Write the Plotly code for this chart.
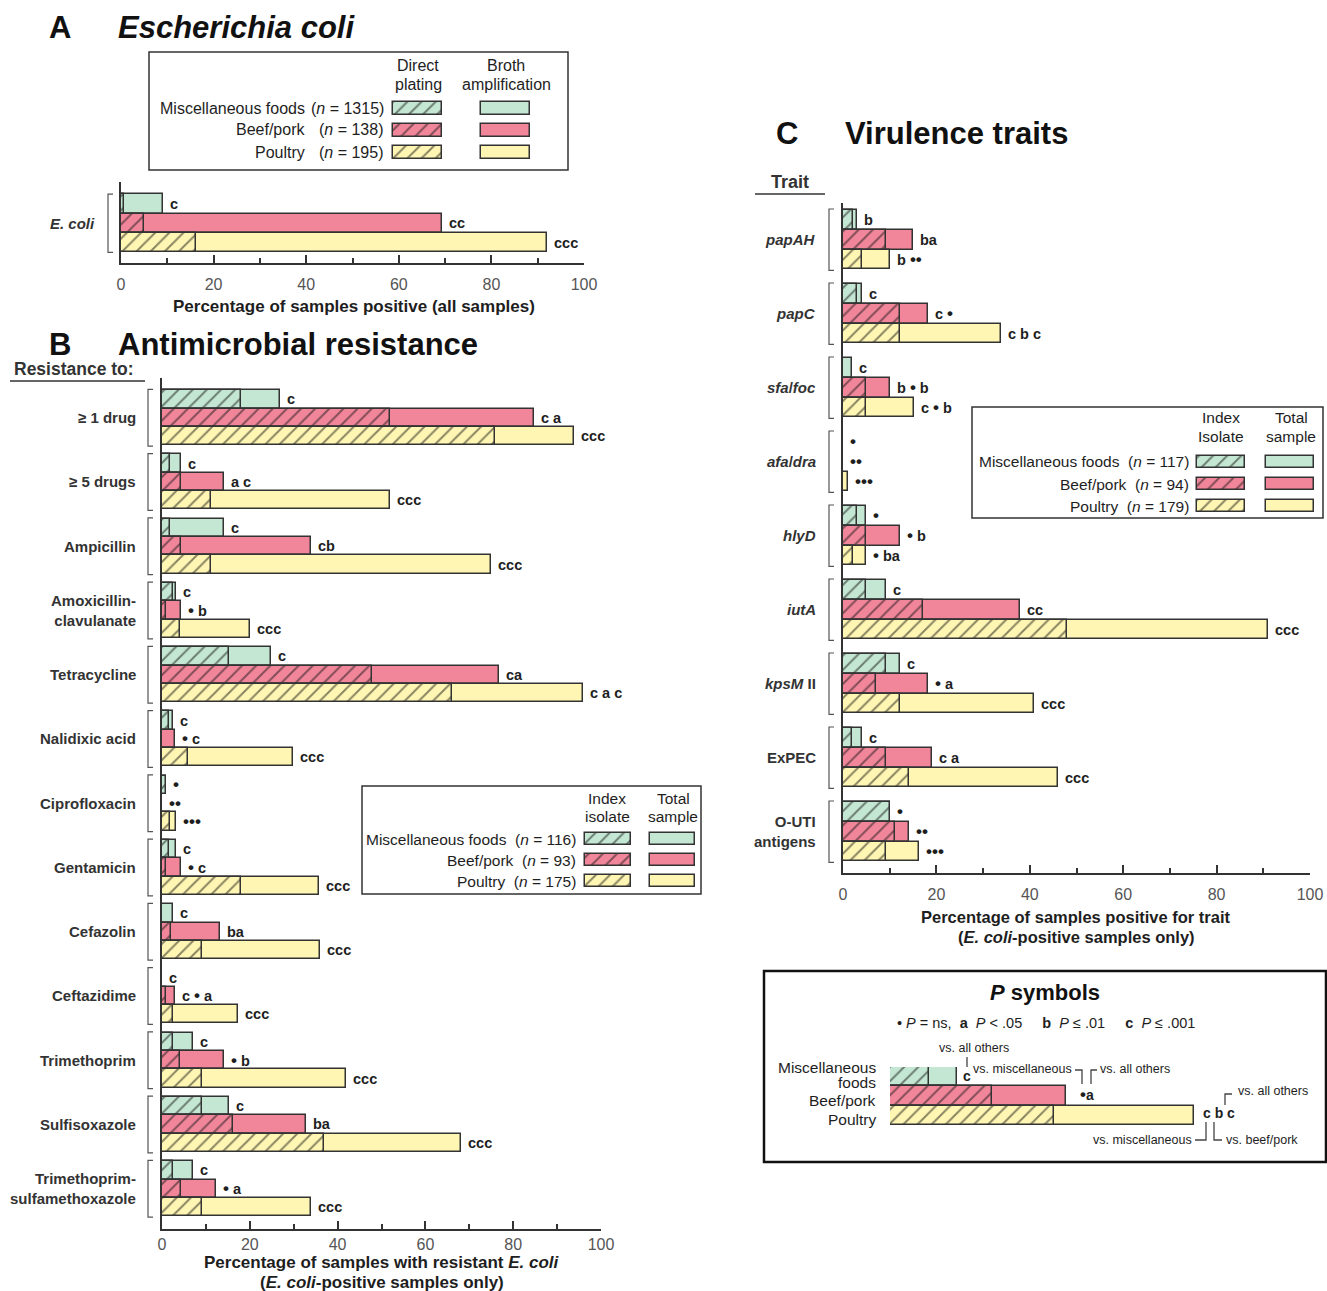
import plotly.graph_objects as go

W, H = 1327, 1291
def X(px): return px / W
def Y(py): return 1 - py / H

FONT = "Liberation Sans, Arial, Helvetica, sans-serif"
TXT = "#1e1e1e"
EDGE = "#333333"
GREEN, PINK, YELLOW = "#c4e7d3", "#f1869a", "#fff6b3"
COLORS = [GREEN, PINK, YELLOW]

sources = ["Miscellaneous foods", "Beef/pork", "Poultry"]

# ---------------- Panel A: E. coli prevalence ----------------
a_category = ["<i>E. coli</i>"]
a_direct = [0.6, 5.0, 16.2]
a_broth = [9.0, 69.3, 92.1]
a_sig = ["c", "cc", "ccc"]
a_n = [1315, 138, 195]

# ---------------- Panel B: antimicrobial resistance ----------------
b_drugs = ["≥ 1 drug", "≥ 5 drugs", "Ampicillin", "Amoxicillin-<br>clavulanate", "Tetracycline",
           "Nalidixic acid", "Ciprofloxacin", "Gentamicin", "Cefazolin", "Ceftazidime",
           "Trimethoprim", "Sulfisoxazole", "Trimethoprim-<br>sulfamethoxazole"]
b_total_misc = [26.8, 4.4, 14.1, 3.3, 24.8, 2.4, 1.0, 3.3, 2.4, 0.0, 7.1, 15.2, 7.1]
b_index_misc = [18.1, 1.8, 1.8, 2.5, 15.2, 1.6, 1.0, 1.6, 0.0, 0.0, 2.4, 9.1, 2.4]
b_total_beef = [84.7, 14.1, 33.9, 4.4, 76.8, 2.9, 0.0, 4.4, 13.1, 3.0, 14.1, 32.9, 12.2]
b_index_beef = [51.9, 4.4, 4.4, 1.0, 47.8, 0.0, 0.0, 0.8, 2.0, 1.0, 4.0, 16.2, 4.4]
b_total_poultry = [93.9, 52.0, 75.0, 20.0, 95.9, 29.8, 3.3, 35.8, 35.9, 17.2, 42.0, 68.2, 34.0]
b_index_poultry = [75.8, 11.1, 11.1, 4.0, 66.1, 5.9, 1.8, 18.1, 9.1, 2.4, 9.1, 36.9, 9.1]
b_sig_misc = ["c", "c", "c", "c", "c", "c", "•", "c", "c", "c", "c", "c", "c"]
b_sig_beef = ["c a", "a c", "cb", "• b", "ca", "• c", "••", "• c", "ba", "c • a", "• b", "ba", "• a"]
b_sig_poultry = ["ccc", "ccc", "ccc", "ccc", "c a c", "ccc", "•••", "ccc", "ccc", "ccc", "ccc", "ccc", "ccc"]
b_n = [116, 93, 175]

# ---------------- Panel C: virulence traits ----------------
c_traits = ["<i>papAH</i>", "<i>papC</i>", "<i>sfa</i>/<i>foc</i>", "<i>afa</i>/<i>dra</i>", "<i>hlyD</i>",
            "<i>iutA</i>", "<i>kpsM</i> II", "ExPEC", "O-UTI<br>antigens"]
c_total_misc = [3.1, 4.1, 2.0, 0.0, 5.0, 9.1, 12.1, 4.1, 10.1]
c_index_misc = [2.1, 3.1, 0.0, 0.0, 3.1, 5.0, 9.1, 2.0, 10.1]
c_total_beef = [15.0, 18.2, 10.1, 0.0, 12.1, 38.0, 18.2, 19.1, 14.1]
c_index_beef = [9.1, 12.1, 5.0, 0.0, 5.0, 17.1, 7.1, 9.1, 11.1]
c_total_poultry = [10.1, 33.9, 15.1, 1.1, 5.0, 90.9, 41.0, 46.0, 16.2]
c_index_poultry = [4.1, 12.1, 5.0, 0.0, 2.2, 48.0, 12.1, 14.1, 9.1]
c_sig_misc = ["b", "c", "c", "•", "•", "c", "c", "c", "•"]
c_sig_beef = ["ba", "c •", "b • b", "••", "• b", "cc", "• a", "c a", "••"]
c_sig_poultry = ["b ••", "c b c", "c • b", "•••", "• ba", "ccc", "ccc", "ccc", "•••"]
c_n = [117, 94, 179]

# ---------------- P-symbol key example (illustrative) ----------------
p_index = [9.75, 25.4, 41.0]
p_total = [16.7, 44.0, 76.0]

xticks = [0, 20, 40, 60, 80, 100]

fig = go.Figure()

def hatch(color):
    return dict(color=color, line=dict(color=EDGE, width=1.5),
                pattern=dict(shape="/", fgcolor="#111111", bgcolor=color, size=10,
                             solidity=0.2, fillmode="overlay"))

def solid(color):
    return dict(color=color, line=dict(color=EDGE, width=1.5))

def add_pair(total, index, ys, width, color, xa, ya):
    fig.add_trace(go.Bar(x=total, y=ys, orientation="h", width=width, marker=solid(color),
                         xaxis=xa, yaxis=ya, showlegend=False, hoverinfo="skip"))
    fig.add_trace(go.Bar(x=index, y=ys, orientation="h", width=width, marker=hatch(color),
                         xaxis=xa, yaxis=ya, showlegend=False, hoverinfo="skip"))

annotations = []
shapes = []

def big_dots(s):
    return s.replace("•", "<span style='font-size:17px'>•</span>")

def ann(text, x, y, size=15, bold=False, italic=False, xanchor="center", yanchor="middle",
        color=TXT, xref="paper", yref="paper", xshift=0, align="center"):
    if bold:
        text = "<b>" + text + "</b>"
    if italic:
        text = "<i>" + text + "</i>"
    annotations.append(dict(text=text, x=x, y=y, xref=xref, yref=yref, showarrow=False,
                            xanchor=xanchor, yanchor=yanchor, xshift=xshift, align=align,
                            font=dict(family=FONT, size=size, color=color)))

def pline(pts, width=1.3, color="#444"):
    path = "M " + " L ".join(f"{X(px)},{Y(py)}" for px, py in pts)
    shapes.append(dict(type="path", path=path, xref="paper", yref="paper",
                       line=dict(color=color, width=width)))

# ---- Panel A bars
pA = 1.0
for k in range(3):
    ys = [(k - 1) * pA]
    add_pair([a_broth[k]], [a_direct[k]], ys, pA, COLORS[k], "x", "y")
    ann(a_sig[k], a_broth[k], ys[0], size=14.5, bold=True, xanchor="left", xref="x", yref="y", xshift=5)
ann(a_category[0], X(97), 0, size=15, bold=True, xanchor="right", yref="y", color="#333")
shapes.append(dict(type="path", xref="paper", yref="y",
                   path=f"M {X(113)},{-1.5*pA} L {X(108)},{-1.5*pA} L {X(108)},{1.5*pA} L {X(113)},{1.5*pA}",
                   line=dict(color="#555", width=1.2)))

# ---- Panel B bars
pB = 0.285
b_tot = [b_total_misc, b_total_beef, b_total_poultry]
b_idx = [b_index_misc, b_index_beef, b_index_poultry]
b_sig = [b_sig_misc, b_sig_beef, b_sig_poultry]
for k in range(3):
    ys = [i + (k - 1) * pB for i in range(len(b_drugs))]
    add_pair(b_tot[k], b_idx[k], ys, pB, COLORS[k], "x2", "y2")
    for i, yv in enumerate(ys):
        ann(big_dots(b_sig[k][i]), b_tot[k][i], yv, size=14.5, bold=True, xanchor="left",
            xref="x2", yref="y2", xshift=5)
for i, lab in enumerate(b_drugs):
    ann(lab, X(138), i, size=15, bold=True, xanchor="right", yref="y2", color="#333", align="right")
    shapes.append(dict(type="path", xref="paper", yref="y2",
                       path=f"M {X(153)},{i-1.55*pB} L {X(148)},{i-1.55*pB} L {X(148)},{i+1.55*pB} L {X(153)},{i+1.55*pB}",
                       line=dict(color="#555", width=1.2)))

# ---- Panel C bars
pC = 0.2676
c_tot = [c_total_misc, c_total_beef, c_total_poultry]
c_idx = [c_index_misc, c_index_beef, c_index_poultry]
c_sig = [c_sig_misc, c_sig_beef, c_sig_poultry]
for k in range(3):
    ys = [i + (k - 1) * pC for i in range(len(c_traits))]
    add_pair(c_tot[k], c_idx[k], ys, pC, COLORS[k], "x3", "y3")
    for i, yv in enumerate(ys):
        ann(big_dots(c_sig[k][i]), c_tot[k][i], yv, size=14.5, bold=True, xanchor="left",
            xref="x3", yref="y3", xshift=5)
for i, lab in enumerate(c_traits):
    ann(lab, X(818), i, size=15, bold=True, xanchor="right", yref="y3", color="#333", align="right")
    shapes.append(dict(type="path", xref="paper", yref="y3",
                       path=f"M {X(834)},{i-1.55*pC} L {X(829)},{i-1.55*pC} L {X(829)},{i+1.55*pC} L {X(834)},{i+1.55*pC}",
                       line=dict(color="#555", width=1.2)))

# ---- P-symbol example bars
for k in range(3):
    add_pair([p_total[k]], [p_index[k]], [k - 1], 1.0, COLORS[k], "x4", "y4")

# ---- Legend swatches (overlay pixel axis x5/y5)
def swatches(rows_y, hx, sx, h):
    for k in range(3):
        fig.add_trace(go.Bar(x=[hx[1] - hx[0]], base=[hx[0]], y=[rows_y[k]], orientation="h", width=h,
                             marker=hatch(COLORS[k]), xaxis="x5", yaxis="y5", showlegend=False, hoverinfo="skip"))
        fig.add_trace(go.Bar(x=[sx[1] - sx[0]], base=[sx[0]], y=[rows_y[k]], orientation="h", width=h,
                             marker=solid(COLORS[k]), xaxis="x5", yaxis="y5", showlegend=False, hoverinfo="skip"))

# Legend A
rowsA = [108, 130, 152]
swatches(rowsA, (393, 442), (481, 530), 13)
for k in range(3):
    ann(sources[k], X(307), Y(rowsA[k]), size=16, xanchor="right")
    ann(f"(<i>n</i> = {a_n[k]})", X(386), Y(rowsA[k]), size=16, xanchor="right")
ann("Direct", X(418), Y(65), size=16); ann("plating", X(418), Y(84), size=16)
ann("Broth", X(506), Y(65), size=16); ann("amplification", X(506), Y(84), size=16)
shapes.append(dict(type="rect", xref="paper", yref="paper", x0=X(149), x1=X(568), y0=Y(170), y1=Y(52),
                   line=dict(color=EDGE, width=1.5)))

# Legend B
rowsB = [839, 860, 881]
swatches(rowsB, (585, 631), (650, 695), 12)
for k in range(3):
    ann(f"{sources[k]}\u00a0 (<i>n</i> = {b_n[k]})", X(578), Y(rowsB[k]), size=15.5, xanchor="right")
ann("Index", X(607), Y(798), size=15.5); ann("isolate", X(607), Y(816), size=15.5)
ann("Total", X(673), Y(798), size=15.5); ann("sample", X(673), Y(816), size=15.5)
shapes.append(dict(type="rect", xref="paper", yref="paper", x0=X(362), x1=X(701), y0=Y(894), y1=Y(786),
                   line=dict(color=EDGE, width=1.5)))

# Legend C
rowsC = [462, 484, 506]
swatches(rowsC, (1197, 1245), (1266, 1314), 12)
for k in range(3):
    ann(f"{sources[k]}\u00a0 (<i>n</i> = {c_n[k]})", X(1191), Y(rowsC[k]), size=15.5, xanchor="right")
ann("Index", X(1221), Y(417), size=15.5); ann("Isolate", X(1221), Y(436), size=15.5)
ann("Total", X(1291), Y(417), size=15.5); ann("sample", X(1291), Y(436), size=15.5)
shapes.append(dict(type="rect", xref="paper", yref="paper", x0=X(972), x1=X(1323), y0=Y(518), y1=Y(407),
                   line=dict(color=EDGE, width=1.5)))

# ---- Panel headings
ann("A", X(60), Y(28), size=31, bold=True, color="#111")
ann("Escherichia coli", X(116), Y(28), size=31, bold=True, italic=True, xanchor="left", color="#111")
ann("B", X(60), Y(345), size=31, bold=True, color="#111")
ann("Antimicrobial resistance", X(116), Y(345), size=31, bold=True, xanchor="left", color="#111")
ann("C", X(787), Y(133), size=31, bold=True, color="#111")
ann("Virulence traits", X(843), Y(133), size=31, bold=True, xanchor="left", color="#111")
ann("Resistance to:", X(12), Y(369), size=17.5, bold=True, xanchor="left", color="#333")
pline([(10, 381), (145, 381)], width=1.5, color="#333")
ann("Trait", X(790), Y(182), size=18, bold=True, color="#333")
pline([(755, 194), (825, 194)], width=1.5, color="#333")

# ---- Axis titles
ann("Percentage of samples positive (all samples)", X(354), Y(306), size=17, bold=True)
ann("Percentage of samples with resistant <i>E. coli</i>", X(382), Y(1262), size=17, bold=True)
ann("(<i>E. coli</i>-positive samples only)", X(382), Y(1282), size=17, bold=True)
ann("Percentage of samples positive for trait", X(1076), Y(917), size=16.5, bold=True)
ann("(<i>E. coli</i>-positive samples only)", X(1076), Y(937), size=16.5, bold=True)

# ---- P symbols box
shapes.append(dict(type="rect", xref="paper", yref="paper", x0=X(764), x1=X(1326), y0=Y(1162), y1=Y(971),
                   line=dict(color="#111", width=2.5)))
ann("<i>P</i> symbols", X(1045), Y(992), size=22, bold=True, color="#111")
ann("• <i>P</i> = ns,  <b>a</b>  <i>P</i> < .05     <b>b</b>  <i>P</i> ≤ .01     <b>c</b>  <i>P</i> ≤ .001",
    X(1046), Y(1023), size=14.5)
ann("Miscellaneous", X(878), Y(1067), size=15.5, xanchor="right")
ann("foods", X(878), Y(1082), size=15.5, xanchor="right")
ann("Beef/pork", X(878), Y(1100), size=15.5, xanchor="right")
ann("Poultry", X(878), Y(1119), size=15.5, xanchor="right")
ann("vs. all others", X(974), Y(1048), size=12.5)
pline([(967, 1057), (967, 1067)])
ann("c", X(967), Y(1076), size=14, bold=True)
ann("vs. miscellaneous", X(1074), Y(1069), size=12.5, xanchor="right")
pline([(1075, 1070), (1082, 1070), (1082, 1084)])
pline([(1091, 1084), (1091, 1070), (1097, 1070)])
ann("vs. all others", X(1098), Y(1069), size=12.5, xanchor="left")
ann(big_dots("•a"), X(1087), Y(1094), size=14, bold=True)
ann("c b c", X(1201), Y(1113), size=14, bold=True, xanchor="left")
pline([(1225, 1105), (1225, 1094), (1232, 1094)])
ann("vs. all others", X(1236), Y(1091), size=12.5, xanchor="left")
pline([(1195, 1140), (1206, 1140), (1206, 1122)])
ann("vs. miscellaneous", X(1194), Y(1140), size=12.5, xanchor="right")
pline([(1214, 1122), (1214, 1140), (1222, 1140)])
ann("vs. beef/pork", X(1224), Y(1140), size=12.5, xanchor="left")

# ---- Axes
def xax(x0, x1, anchor, standoff):
    return dict(domain=[X(x0), X(x1)], range=[0, 100], anchor=anchor, showline=True, linecolor=EDGE,
                linewidth=2, ticks="inside", ticklen=8, tickwidth=1.8, tickcolor=EDGE, tickmode="array",
                tickvals=xticks, showgrid=False, zeroline=False, fixedrange=True, automargin=False,
                ticklabelstandoff=standoff,
                tickfont=dict(family=FONT, size=16, color="#555"),
                minor=dict(ticks="inside", ticklen=5, tickwidth=1.5, tickcolor=EDGE,
                           tickvals=[10, 30, 50, 70, 90], showgrid=False))

def yax(top, bottom, rng, anchor):
    return dict(domain=[Y(bottom), Y(top)], range=rng, anchor=anchor, showline=True, linecolor=EDGE,
                linewidth=2, ticks="", showticklabels=False, showgrid=False, zeroline=False,
                fixedrange=True, automargin=False)

cA, pitchA = 223.2, 19.4
cB, gB = 417.7, 64.25
cC, gC = 239.7, 74.0
hidden = dict(visible=False, fixedrange=True, automargin=False)

fig.update_layout(
    width=W, height=H, autosize=False,
    margin=dict(l=0, r=0, t=0, b=0, pad=0, autoexpand=False),
    paper_bgcolor="white", plot_bgcolor="rgba(0,0,0,0)",
    barmode="overlay", bargap=0,
    font=dict(family=FONT, color=TXT),
    xaxis=xax(121, 584, "y", 6),
    yaxis=yax(182, 263, [(263 - cA) / pitchA, (182 - cA) / pitchA], "x"),
    xaxis2=xax(162, 601, "y2", 0),
    yaxis2=yax(378, 1229, [(1229 - cB) / gB, (378 - cB) / gB], "x2"),
    xaxis3=xax(843, 1310, "y3", 6),
    yaxis3=yax(203, 873, [(873 - cC) / gC, (203 - cC) / gC], "x3"),
    xaxis4=dict(domain=[X(890), X(1290)], range=[0, 100], anchor="y4", **hidden),
    yaxis4=dict(domain=[Y(1125), Y(1067)], range=[1.5, -1.5], anchor="x4", **hidden),
    xaxis5=dict(domain=[0, 1], range=[0, W], anchor="y5", **hidden),
    yaxis5=dict(domain=[0, 1], range=[H, 0], anchor="x5", **hidden),
    annotations=annotations,
    shapes=shapes,
)

fig.write_html("out.html", config={"displayModeBar": False},
               post_script="document.body.style.margin='0px';document.body.style.overflow='hidden';")
